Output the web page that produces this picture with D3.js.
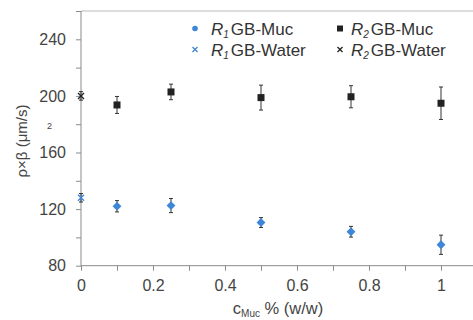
<!DOCTYPE html>
<html><head><meta charset="utf-8">
<script src="https://cdn.jsdelivr.net/npm/d3@7"></script>
<style>body{margin:0;background:#fff}svg{display:block}text{font-family:Arial,"Liberation Sans",sans-serif}</style>
</head><body><svg id="c" width="473" height="320"></svg>
<script>
const xTicks = [0, 0.2, 0.4, 0.6, 0.8, 1];
const yTicks = [80, 120, 160, 200, 240];
const cMuc = [0.1, 0.25, 0.5, 0.75, 1];
const r1Muc = [122, 122.5, 110.5, 104, 94.8];
const r1MucErr = [4, 5, 3.5, 3.8, 6.8];
const r2Muc = [193.6, 202.8, 198.8, 199.4, 194.8];
const r2MucErr = [6, 5.5, 8.8, 7.8, 11.5];
const waterX = [0];
const r1Water = [128];
const r1WaterErr = [3];
const r2Water = [200];
const r2WaterErr = [3];
const legendLabels = [["R","1","GB-Muc"],["R","2","GB-Muc"],["R","1","GB-Water"],["R","2","GB-Water"]];

const svg = d3.select("#c");
const x = d3.scaleLinear().domain([0, 1]).range([81, 441]);
const y = d3.scaleLinear().domain([80, 240]).range([265.7, 39.3]);
const axisCol = "#8a8a8a", textCol = "#444";

// top frame line
svg.append("line").attr("x1", x(0)).attr("x2", 473).attr("y1", y(260)).attr("y2", y(260))
  .attr("stroke", "#bbb").attr("stroke-width", 1);

// y axis
const yAx = svg.append("g").attr("transform", `translate(${x(0)},0)`)
  .call(d3.axisLeft(y).tickValues(d3.range(80, 261, 20)).tickSize(5)
    .tickFormat(d => yTicks.includes(d) ? d : ""));
yAx.select(".domain").attr("stroke", axisCol).attr("d", `M0,${y(80)}V${y(260)}`);
yAx.selectAll(".tick line").attr("stroke", axisCol);
yAx.selectAll("text").attr("fill", textCol).attr("font-size", 16).attr("x", -15)
  .attr("font-family", "Arial, 'Liberation Sans', sans-serif");

// x axis
const xAx = svg.append("g").attr("transform", `translate(0,${y(80)})`)
  .call(d3.axisBottom(x).tickValues(d3.range(0, 1.01, 0.1)).tickSize(5)
    .tickFormat(d => xTicks.some(t => Math.abs(t - d) < 1e-9) ? d3.format("~g")(d) : ""));
xAx.select(".domain").attr("stroke", axisCol).attr("d", `M${x(0)},0H473`);
xAx.selectAll(".tick line").attr("stroke", axisCol).attr("y1", -0).attr("y2", 5);
xAx.selectAll("text").attr("fill", textCol).attr("font-size", 16).attr("dy", "0.71em").attr("y", 14)
  .attr("font-family", "Arial, 'Liberation Sans', sans-serif");

// axis titles
svg.append("text").attr("transform", "translate(27,141) rotate(-90)").attr("text-anchor", "middle")
  .attr("font-size", 15).attr("fill", textCol).text("ρ×β  (μm/s)");
svg.append("text").attr("x", 49.5).attr("y", 128.5).attr("text-anchor", "middle")
  .attr("font-size", 9).attr("fill", textCol).text("2");
const xt = svg.append("text").attr("x", 278).attr("y", 314).attr("text-anchor", "middle")
  .attr("font-size", 16.5).attr("fill", textCol);
xt.append("tspan").text("c");
xt.append("tspan").attr("font-size", 10).attr("dy", 3).text("Muc");
xt.append("tspan").attr("dy", -3).text(" % (w/w)");

const blue = "#3d86d8", dark = "#222", errCol = "#333";

function errBars(xs, vs, es) {
  const g = svg.append("g").attr("stroke", errCol).attr("stroke-width", 1);
  xs.forEach((xv, i) => {
    const px = x(xv);
    g.append("line").attr("x1", px).attr("x2", px).attr("y1", y(vs[i] + es[i])).attr("y2", y(vs[i] - es[i]));
    [vs[i] + es[i], vs[i] - es[i]].forEach(v =>
      g.append("line").attr("x1", px - 2).attr("x2", px + 2).attr("y1", y(v)).attr("y2", y(v)));
  });
}
function crosses(xs, vs, col, s) {
  const g = svg.append("g").attr("stroke", col).attr("stroke-width", 1.4);
  xs.forEach((xv, i) => {
    const px = x(xv), py = y(vs[i]);
    g.append("path").attr("d", `M${px - s},${py - s}L${px + s},${py + s}M${px - s},${py + s}L${px + s},${py - s}`);
  });
}

errBars(waterX, r2Water, r2WaterErr);
errBars(waterX, r1Water, r1WaterErr);
errBars(cMuc, r2Muc, r2MucErr);
errBars(cMuc, r1Muc, r1MucErr);

svg.append("g").selectAll("rect").data(cMuc).join("rect")
  .attr("x", d => x(d) - 3.5).attr("y", (d, i) => y(r2Muc[i]) - 3.5)
  .attr("width", 7).attr("height", 7).attr("fill", dark);
svg.append("g").selectAll("path").data(cMuc).join("path")
  .attr("transform", (d, i) => `translate(${x(d)},${y(r1Muc[i])})`)
  .attr("d", d3.symbol(d3.symbolDiamond2, 50)).attr("fill", blue);
crosses(waterX, r2Water, dark, 3);
crosses(waterX, r1Water, blue, 3);

// legend
const leg = svg.append("g");
const lx = [195, 340], ly = [28.5, 49.5], tx = [211, 351];
legendLabels.forEach((lab, i) => {
  const col = i % 2, row = Math.floor(i / 2);
  const cx = lx[col], cy = ly[row];
  if (row === 0 && col === 0) leg.append("circle").attr("cx", cx).attr("cy", cy).attr("r", 2.8).attr("fill", blue);
  if (row === 0 && col === 1) leg.append("rect").attr("x", cx - 3).attr("y", cy - 3).attr("width", 6).attr("height", 6).attr("fill", dark);
  if (row === 1) {
    const c = col === 0 ? blue : dark, s = 2.5;
    leg.append("path").attr("d", `M${cx - s},${cy - s}L${cx + s},${cy + s}M${cx - s},${cy + s}L${cx + s},${cy - s}`)
      .attr("stroke", c).attr("stroke-width", 1.3);
  }
  const t = leg.append("text").attr("x", tx[col]).attr("y", cy + 6).attr("font-size", 17).attr("fill", "#333");
  t.append("tspan").attr("font-style", "italic").text(lab[0]);
  t.append("tspan").attr("font-style", "italic").attr("font-size", 10).attr("dy", 3).text(lab[1]);
  t.append("tspan").attr("dy", -3).attr("dx", 2).text(lab[2]);
});
</script></body></html>
